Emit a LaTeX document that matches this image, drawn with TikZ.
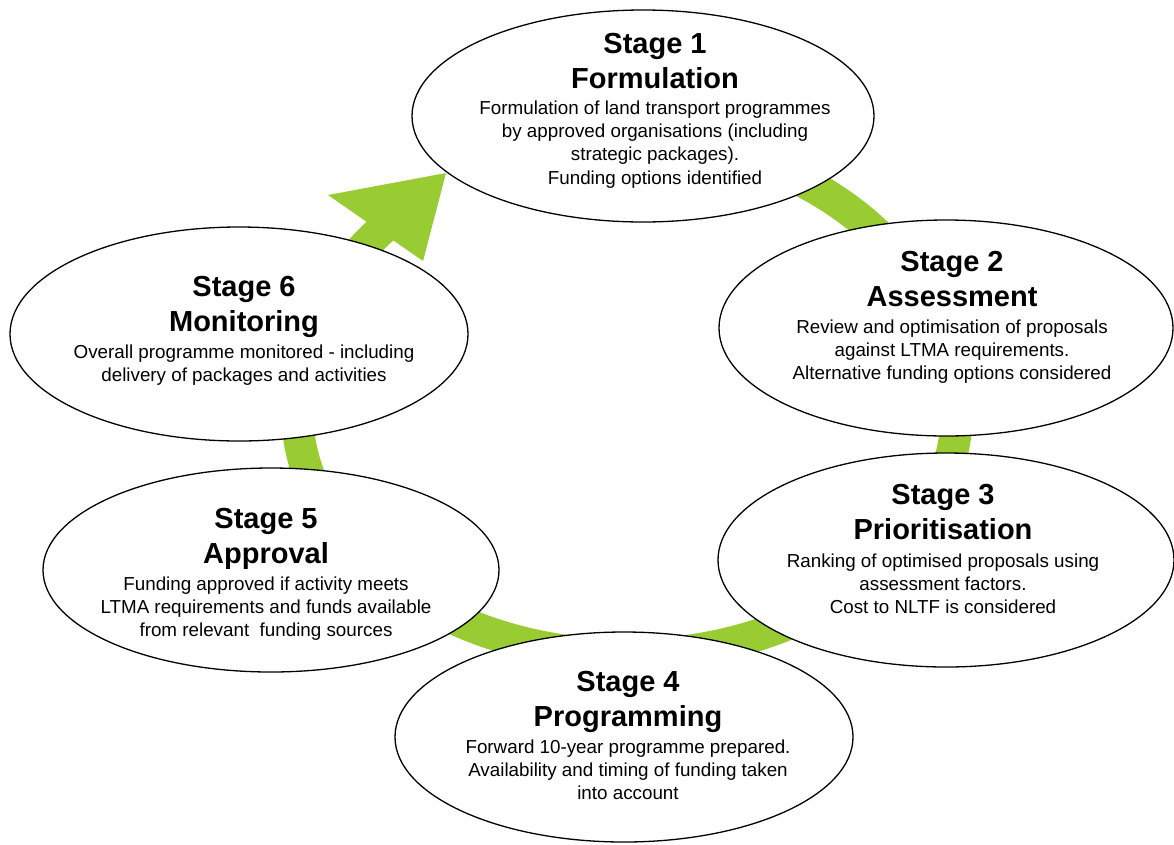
\documentclass[tikz,border=0pt]{standalone}
\usepackage{fontspec}
\setmainfont{Liberation Sans}
\usetikzlibrary{shapes.geometric}
\definecolor{ringgreen}{RGB}{153,204,51}
\begin{document}
\begin{tikzpicture}[x=1pt,y=-1pt,
  stage/.style={ellipse, draw=black, line width=1.3pt, fill=white, inner sep=0pt},
  titletext/.style={anchor=north, align=center, inner sep=0pt, font=\fontsize{29}{35.5}\selectfont\bfseries},
  bodytext/.style={anchor=north, align=center, inner sep=0pt, font=\fontsize{18.8}{23.3}\selectfont},
  band/.style={draw=ringgreen, line width=32pt},
  head/.style={fill=ringgreen}
]
\useasboundingbox (0,0) rectangle (1174,844);
% green ring
\draw[band] (627,410) ++(224:330 and 270)
  arc[start angle=224, end angle=180, x radius=330, y radius=270]
  arc[start angle=180, end angle=0, x radius=330, y radius=245]
  arc[start angle=360, end angle=280, x radius=330, y radius=270];
\coordinate (hl) at (328,195);
\coordinate (ht) at (446,173);
\coordinate (hr) at (423,261);
\fill[head] (hl) -- (ht) -- (hr) -- cycle;
% stage ellipses
\node[stage, minimum width=462pt, minimum height=212pt] (s1) at (643,116) {};
\node[stage, minimum width=454pt, minimum height=216pt] (s2) at (946,328) {};
\node[stage, minimum width=456pt, minimum height=214pt] (s3) at (946,560) {};
\node[stage, minimum width=458pt, minimum height=210pt] (s4) at (624,737) {};
\node[stage, minimum width=456pt, minimum height=204pt] (s5) at (271,570) {};
\node[stage, minimum width=458pt, minimum height=214pt] (s6) at (239,334) {};
% texts
\node[titletext] (t1) at (655,30) {\rule{0pt}{23pt}Stage 1\\Formulation};
\node[bodytext] (b1) at (655,99) {\rule{0pt}{15pt}Formulation of land transport programmes\\by approved organisations (including\\strategic packages).\\Funding options identified};
\node[titletext] (t2) at (952,248) {\rule{0pt}{23pt}Stage 2\\Assessment};
\node[bodytext] (b2) at (952,318) {\rule{0pt}{15pt}Review and optimisation of proposals\\against LTMA requirements.\\Alternative funding options considered};
\node[titletext] (t3) at (943,481) {\rule{0pt}{23pt}Stage 3\\Prioritisation};
\node[bodytext] (b3) at (943,552) {\rule{0pt}{15pt}Ranking of optimised proposals using\\assessment factors.\\Cost to NLTF is considered};
\node[titletext] (t4) at (628,668) {\rule{0pt}{23pt}Stage 4\\Programming};
\node[bodytext] (b4) at (628,738) {\rule{0pt}{15pt}Forward 10-year programme prepared.\\Availability and timing of funding taken\\into account};
\node[titletext] (t5) at (266,505) {\rule{0pt}{23pt}Stage 5\\Approval};
\node[bodytext] (b5) at (266,575) {\rule{0pt}{15pt}Funding approved if activity meets\\LTMA requirements and funds available\\from relevant\ \ funding sources};
\node[titletext] (t6) at (244,273) {\rule{0pt}{23pt}Stage 6\\Monitoring};
\node[bodytext] (b6) at (244,343) {\rule{0pt}{15pt}Overall programme monitored - including\\delivery of packages and activities};
\end{tikzpicture}
\end{document}
